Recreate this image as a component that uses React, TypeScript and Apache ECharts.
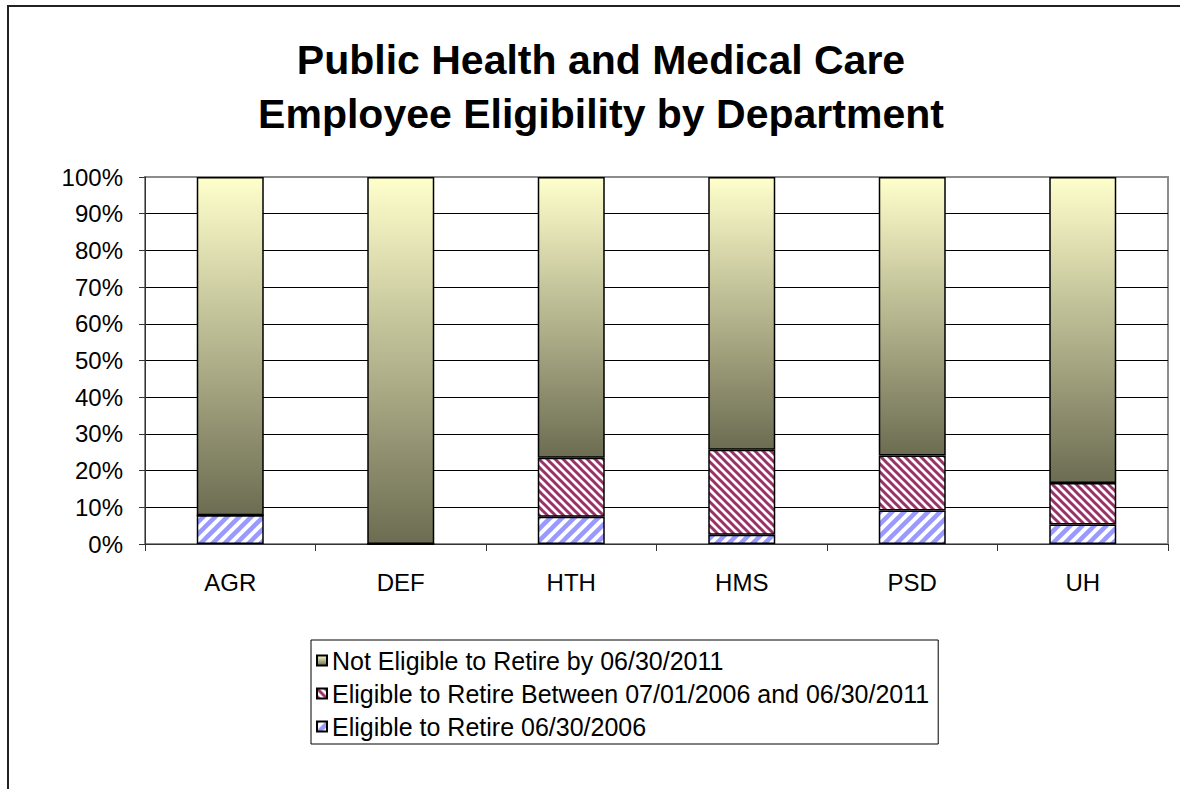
import React, { useEffect, useRef } from "react";
import * as echarts from "echarts";

const categories = ["AGR", "DEF", "HTH", "HMS", "PSD", "UH"];
const eligibleNow = [7.8, 0, 7.4, 2.5, 9.1, 5.3];
const eligibleBetween = [0, 0, 16.1, 23.2, 15.0, 11.3];
const notEligible = [92.2, 100, 76.5, 74.3, 75.9, 83.4];
const seriesNames = [
  "Eligible to Retire 06/30/2006",
  "Eligible to Retire Between 07/01/2006 and 06/30/2011",
  "Not Eligible to Retire by 06/30/2011",
];
const titleText = "Public Health and Medical Care\nEmployee Eligibility by Department";

const FONT = "'Liberation Sans', Arial, sans-serif";

function makeStripe(color: string, size: number, lw: number, dir: "/" | "\\") {
  const c = document.createElement("canvas");
  c.width = size;
  c.height = size;
  const ctx = c.getContext("2d")!;
  ctx.fillStyle = "#ffffff";
  ctx.fillRect(0, 0, size, size);
  ctx.strokeStyle = color;
  ctx.lineWidth = lw;
  ctx.lineCap = "square";
  for (const k of [-1, 0, 1]) {
    ctx.beginPath();
    if (dir === "/") {
      ctx.moveTo(k * size, size);
      ctx.lineTo(k * size + size, 0);
    } else {
      ctx.moveTo(k * size, 0);
      ctx.lineTo(k * size + size, size);
    }
    ctx.stroke();
  }
  return {
    image: c.toDataURL(),
    repeat: "repeat",
    imageWidth: size,
    imageHeight: size,
  } as any;
}

export default function App() {
  const ref = useRef<HTMLDivElement>(null);
  useEffect(() => {
    if (!ref.current) return;
    const chart = echarts.init(ref.current, undefined, { renderer: "svg" });
    const bluePattern = makeStripe("#9999FF", 12, 4.5, "/");
    const redPattern = makeStripe("#993366", 8, 3, "\\");
    const gradient = new echarts.graphic.LinearGradient(0, 0, 0, 1, [
      { offset: 0, color: "#FFFFCC" },
      { offset: 1, color: "#6C6C52" },
    ]);
    const border = { borderColor: "#000", borderWidth: 1.5 };
    chart.setOption({
      animation: false,
      textStyle: { fontFamily: FONT },
      graphic: [
        {
          type: "rect",
          shape: { x: 8, y: 6, width: 1300, height: 900 },
          style: { fill: "none", stroke: "#222", lineWidth: 2 },
          silent: true,
        },
        {
          type: "text",
          x: 601,
          y: 33,
          style: {
            text: titleText,
            align: "center",
            verticalAlign: "top",
            fontSize: 41,
            fontWeight: "bold",
            fontFamily: FONT,
            lineHeight: 54,
            fill: "#000",
          },
        },
      ],
      legend: {
        orient: "vertical",
        left: 311,
        top: 640,
        padding: [8, 9, 5, 5],
        itemGap: 8,
        itemWidth: 10,
        itemHeight: 10,
        icon: "rect",
        borderColor: "#000",
        borderWidth: 1,
        selectedMode: false,
        textStyle: { fontSize: 25, color: "#000", lineHeight: 24, fontFamily: FONT },
        data: [seriesNames[2], seriesNames[1], seriesNames[0]],
      },
      grid: {
        left: 145,
        right: 12,
        top: 177,
        bottom: 245,
        show: true,
        borderColor: "#8c8c8c",
        borderWidth: 2,
        backgroundColor: "transparent",
      },
      xAxis: {
        type: "category",
        data: categories,
        axisLine: { lineStyle: { color: "#333", width: 1 } },
        axisTick: { show: true, length: 7, lineStyle: { color: "#333" } },
        axisLabel: { fontSize: 24, color: "#000", margin: 26, fontFamily: FONT },
      },
      yAxis: {
        type: "value",
        min: 0,
        max: 100,
        interval: 10,
        axisLine: { show: true, lineStyle: { color: "#333", width: 1 } },
        axisTick: { show: true, length: 6, lineStyle: { color: "#333" } },
        axisLabel: { formatter: "{value}%", fontSize: 24, color: "#000", margin: 22, fontFamily: FONT },
        splitLine: { show: true, showMaxLine: false, lineStyle: { color: "#000", width: 1 } },
      },
      series: [
        {
          name: seriesNames[0],
          type: "bar",
          stack: "total",
          barWidth: 67,
          data: eligibleNow,
          itemStyle: { color: bluePattern, ...border },
        },
        {
          name: seriesNames[1],
          type: "bar",
          stack: "total",
          barWidth: 67,
          data: eligibleBetween,
          itemStyle: { color: redPattern, ...border },
        },
        {
          name: seriesNames[2],
          type: "bar",
          stack: "total",
          barWidth: 67,
          data: notEligible,
          itemStyle: { color: gradient, ...border },
        },
      ],
    });
    return () => chart.dispose();
  }, []);
  return (
    <div
      ref={ref}
      style={{ position: "fixed", left: 0, top: 0, width: 1180, height: 789, background: "#fff" }}
    />
  );
}
